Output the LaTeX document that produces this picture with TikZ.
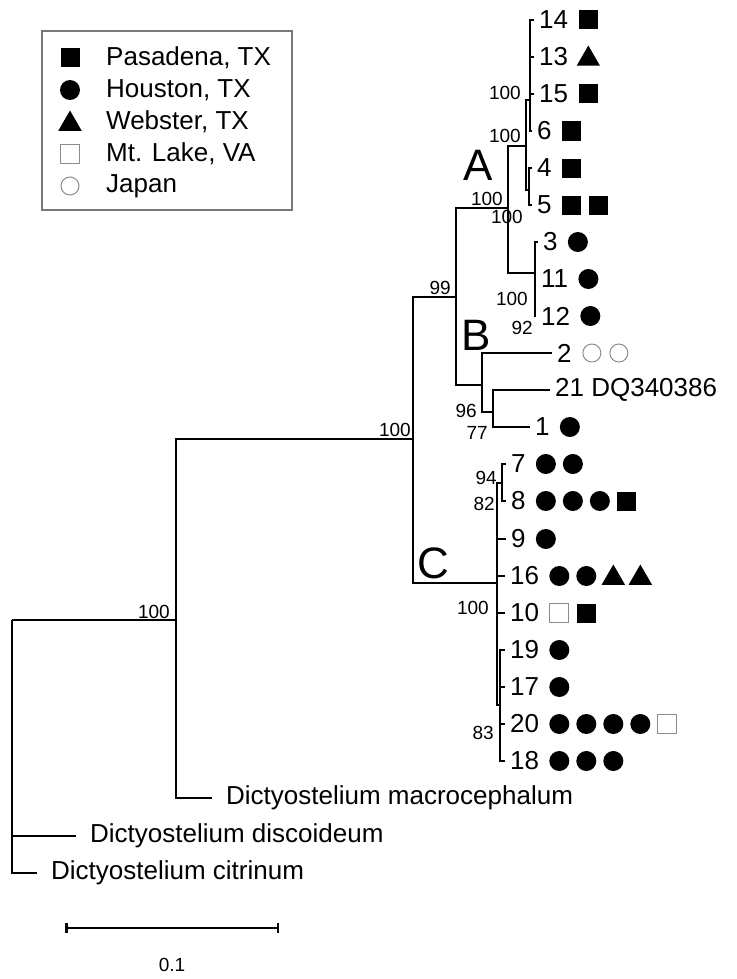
\documentclass[tikz,border=0pt]{standalone}
\usepackage{fontspec}
\setmainfont{Liberation Sans}
\usetikzlibrary{shapes.geometric, positioning, calc, arrows.meta}
\definecolor{openGray}{RGB}{140,140,140}
\definecolor{frameGray}{RGB}{120,120,120}

% marks after a tip label
\newcommand{\tipmarks}[2]{%
  \foreach \m [count=\k from 0] in {#2}
    \node[\m] at ([xshift=15+27*\k]#1.east) {};}

\begin{document}
\begin{tikzpicture}[x=1pt, y=-1pt,
    branch/.style={line width=2.8pt},
    tip/.style={font=\fontsize{26}{26}\selectfont, anchor=west, inner xsep=5pt, inner ysep=0pt},
    species/.style={font=\fontsize{26}{26}\selectfont, anchor=west, inner xsep=14pt, inner ysep=0pt},
    boot/.style={font=\fontsize{19}{19}\selectfont, anchor=east, inner sep=0pt},
    clade/.style={font=\fontsize{44}{44}\selectfont, inner sep=0pt},
    sqm/.style={rectangle, fill=black, minimum size=19pt, inner sep=0pt},
    dotm/.style={circle, fill=black, minimum size=20pt, inner sep=0pt},
    trim/.style={regular polygon, regular polygon sides=3, fill=black, minimum size=27pt, inner sep=0pt, yshift=-2pt},
    osqm/.style={rectangle, draw=openGray, line width=1pt, minimum size=19pt, inner sep=0pt},
    ocirm/.style={circle, draw=openGray, line width=1pt, minimum size=18pt, inner sep=0pt}]
  \useasboundingbox (0,0) rectangle (736,979);

  % Legend
  \draw[frameGray, line width=1.5pt] (42,31) rectangle (292,210);
  \node[sqm] (legSq) at (70,58) {};
  \node[tip, inner xsep=0pt] at (106,58) {Pasadena, TX};
  \node[dotm] (legDot) at (70,90) {};
  \node[tip, inner xsep=0pt] at (106,90) {Houston, TX};
  \node[trim] (legTri) at (70,122) {};
  \node[tip, inner xsep=0pt] at (106,122) {Webster, TX};
  \node[osqm] (legOsq) at (70,154) {};
  \node[tip, inner xsep=0pt] at (106,154) {Mt. Lake, VA};
  \node[ocirm] (legOcir) at (70,186) {};
  \node[tip, inner xsep=0pt] at (106,186) {Japan};

  % Internal nodes
  \coordinate (r) at (12,620);
  \coordinate (nMa) at (176,620);
  \coordinate (nX) at (413,439);
  \coordinate (nAB) at (456,297);
  \coordinate (nA) at (508,208);
  \coordinate (nA1) at (526,146);
  \coordinate (nA11) at (530,100);
  \coordinate (nA12) at (529,190);
  \coordinate (nA2) at (535,273);
  \coordinate (nB) at (482,385);
  \coordinate (nB2) at (493,412);
  \coordinate (nC) at (497,583);
  \coordinate (nC1) at (502,483);
  \coordinate (nC2) at (500,705);

  % Tips, clade A
  \node[tip] (t14) at (534,20) {14};
  \node[tip] (t13) at (534,57) {13};
  \node[tip] (t15) at (534,94) {15};
  \node[tip] (t6) at (532,131) {6};
  \node[tip] (t4) at (532,168) {4};
  \node[tip] (t5) at (532,205) {5};
  \node[tip] (t3) at (538,242) {3};
  \node[tip] (t11) at (536,279) {11};
  \node[tip] (t12) at (536,316) {12};
  % Tips, clade B
  \node[tip] (t2) at (552,353) {2};
  \node[tip] (t21) at (550,390) {21 DQ340386};
  \node[tip] (t1) at (530,427) {1};
  % Tips, clade C
  \node[tip] (t7) at (506,464) {7};
  \node[tip] (t8) at (506,501) {8};
  \node[tip] (t9) at (506,539) {9};
  \node[tip] (t16) at (505,576) {16};
  \node[tip] (t10) at (505,613) {10};
  \node[tip] (t19) at (505,650) {19};
  \node[tip] (t17) at (505,687) {17};
  \node[tip] (t20) at (505,724) {20};
  \node[tip] (t18) at (505,761) {18};
  % Outgroups
  \node[species] (tMac) at (212,798) {Dictyostelium macrocephalum};
  \node[species] (tDis) at (76,836) {Dictyostelium discoideum};
  \node[species] (tCit) at (37,873) {Dictyostelium citrinum};

  % Branches
  \draw[branch] (r) |- (nMa);
  \draw[branch] (r) |- (tDis.west);
  \draw[branch] (r) |- (tCit.west);
  \draw[branch] (nMa) |- (nX);
  \draw[branch] (nMa) |- (tMac.west);
  \draw[branch] (nX) |- (nAB);
  \draw[branch] (nX) |- (nC);
  \draw[branch] (nAB) |- (nA);
  \draw[branch] (nAB) |- (nB);
  \draw[branch] (nA) |- (nA1);
  \draw[branch] (nA) |- (nA2);
  \draw[branch] (nA1) |- (nA11);
  \draw[branch] (nA1) |- (nA12);
  \foreach \t in {t14,t13,t15,t6} \draw[branch] (nA11) |- (\t.west);
  \foreach \t in {t4,t5} \draw[branch] (nA12) |- (\t.west);
  \foreach \t in {t3,t11,t12} \draw[branch] (nA2) |- (\t.west);
  \draw[branch] (nB) |- (t2.west);
  \draw[branch] (nB) |- (nB2);
  \draw[branch] (nB2) |- (t21.west);
  \draw[branch] (nB2) |- (t1.west);
  \draw[branch] (nC) |- (nC1);
  \draw[branch] (nC) |- (nC2);
  \foreach \t in {t9,t16,t10} \draw[branch] (nC) |- (\t.west);
  \foreach \t in {t7,t8} \draw[branch] (nC1) |- (\t.west);
  \foreach \t in {t19,t17,t20,t18} \draw[branch] (nC2) |- (\t.west);

  % Bootstrap values
  \node[boot] at (521,93) {100};
  \node[boot] at (521,136) {100};
  \node[boot] at (503,199) {100};
  \node[boot] at (523,217) {100};
  \node[boot] at (528,299) {100};
  \node[boot] at (533,328) {92};
  \node[boot] at (451,288) {99};
  \node[boot] at (477,411) {96};
  \node[boot] at (488,433) {77};
  \node[boot] at (411,430) {100};
  \node[boot] at (497,478) {94};
  \node[boot] at (495,504) {82};
  \node[boot] at (489,608) {100};
  \node[boot] at (494,733) {83};
  \node[boot] at (170,612) {100};

  % Clade letters
  \node[clade] at (478,165) {A};
  \node[clade] at (476,335) {B};
  \node[clade] at (433,563) {C};

  % Locality marks
  \tipmarks{t14}{sqm}
  \tipmarks{t13}{trim}
  \tipmarks{t15}{sqm}
  \tipmarks{t6}{sqm}
  \tipmarks{t4}{sqm}
  \tipmarks{t5}{sqm,sqm}
  \tipmarks{t3}{dotm}
  \tipmarks{t11}{dotm}
  \tipmarks{t12}{dotm}
  \tipmarks{t2}{ocirm,ocirm}
  \tipmarks{t1}{dotm}
  \tipmarks{t7}{dotm,dotm}
  \tipmarks{t8}{dotm,dotm,dotm,sqm}
  \tipmarks{t9}{dotm}
  \tipmarks{t16}{dotm,dotm,trim,trim}
  \tipmarks{t10}{osqm,sqm}
  \tipmarks{t19}{dotm}
  \tipmarks{t17}{dotm}
  \tipmarks{t20}{dotm,dotm,dotm,dotm,osqm}
  \tipmarks{t18}{dotm,dotm,dotm}

  % Scale bar
  \coordinate (sbL) at (65,928);
  \coordinate (sbR) at (279,928);
  \draw[line width=2.5pt, {Bar[width=10pt]}-{Bar[width=10pt]}] (sbL) -- (sbR);
  \node[font=\fontsize{19}{19}\selectfont] at (172,965) {0.1};
\end{tikzpicture}
\end{document}
